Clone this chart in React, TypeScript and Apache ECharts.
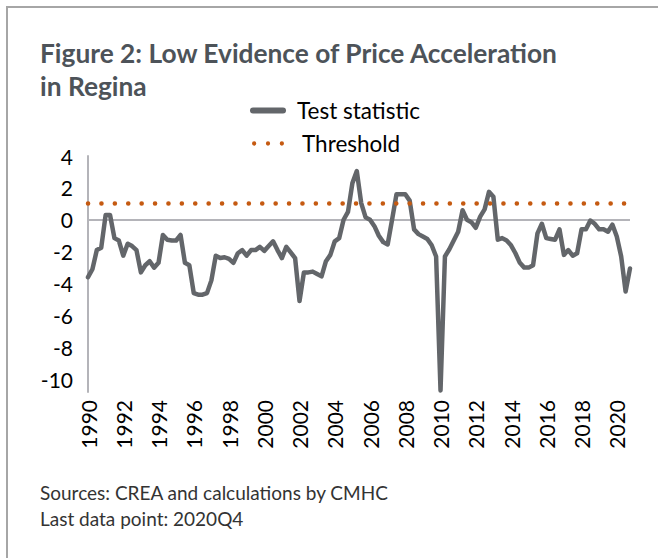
import React, { useEffect, useRef } from "react";
import * as echarts from "echarts";

// Quarterly categories 1990Q1 .. 2020Q4
const START_YEAR = 1990;
const END_YEAR = 2020;
const QUARTERS: string[] = [];
for (let y = START_YEAR; y <= END_YEAR; y++) {
  for (let q = 1; q <= 4; q++) QUARTERS.push(`${y}Q${q}`);
}

// Test statistic values (one per quarter)
const TEST_STATISTIC: number[] = [
  -3.6, -3.1, -1.9, -1.75, 0.3, 0.3, -1.15, -1.3, -2.25, -1.5,
  -1.65, -1.9, -3.3, -2.85, -2.6, -3.0, -2.7, -0.95, -1.25, -1.3,
  -1.3, -0.95, -2.7, -2.85, -4.6, -4.7, -4.7, -4.6, -3.8, -2.25,
  -2.4, -2.35, -2.45, -2.7, -2.1, -1.9, -2.25, -1.9, -1.9, -1.7,
  -1.95, -1.65, -1.35, -1.9, -2.4, -1.7, -2.05, -2.4, -5.1, -3.3,
  -3.3, -3.25, -3.4, -3.55, -2.6, -2.2, -1.35, -1.15, 0.0, 0.5,
  2.3, 3.05, 1.05, 0.15, 0.0, -0.4, -1.0, -1.4, -1.55, 0.0,
  1.6, 1.6, 1.6, 1.2, -0.6, -0.9, -1.05, -1.2, -1.6, -2.3,
  -10.7, -2.3, -1.85, -1.3, -0.75, 0.6, 0.0, -0.15, -0.5, 0.2,
  0.65, 1.75, 1.45, -1.25, -1.15, -1.3, -1.6, -2.1, -2.7, -3.0,
  -3.0, -2.85, -0.85, -0.25, -1.15, -1.2, -1.25, -0.6, -2.2, -1.9,
  -2.25, -2.1, -0.6, -0.6, -0.05, -0.25, -0.6, -0.6, -0.75, -0.3,
  -1.05, -2.3, -4.5, -3.05,
];

const THRESHOLD = 1.05;
const Y_TICKS: number[] = [-10, -8, -6, -4, -2, 0, 2, 4];

const TITLE = "Figure 2: Low Evidence of Price Acceleration\nin Regina";
const FOOTNOTE = "Sources: CREA and calculations by CMHC\nLast data point: 2020Q4";
const SERIES_NAMES = ["Test statistic", "Threshold"];

const FONT = "Lato, 'Open Sans', sans-serif";
const LINE_COLOR = "#63666A";
const THRESH_COLOR = "#C55A11";
const AXIS_COLOR = "#B4B4B9";

export default function App() {
  const ref = useRef<HTMLDivElement>(null);

  useEffect(() => {
    if (!ref.current) return;
    const chart = echarts.init(ref.current, null, { renderer: "svg" });
    const option: any = {
      animation: false,
      backgroundColor: "#ffffff",
      title: [
        {
          text: TITLE,
          left: 40,
          top: 36,
          padding: 0,
          textStyle: {
            fontFamily: FONT,
            fontSize: 26.3,
            fontWeight: "bold",
            color: "#4D5359",
            lineHeight: 33,
          },
        },
        {
          text: FOOTNOTE,
          left: 40,
          top: 479,
          padding: 0,
          textStyle: {
            fontFamily: FONT,
            fontSize: 19,
            fontWeight: "normal",
            color: "#333333",
            lineHeight: 26,
          },
        },
      ],
      legend: [
        {
          data: [
            {
              name: SERIES_NAMES[0],
              icon: "path://M3,0 H33 A3,3 0 0 1 33,6 H3 A3,3 0 0 1 3,0 Z",
            },
          ],
          left: 250,
          top: 99,
          padding: 0,
          itemWidth: 38,
          itemHeight: 6,
          textStyle: {
            fontFamily: FONT,
            fontSize: 22.5,
            color: "#000",
            padding: [0, 0, 0, 5],
          },
        },
        {
          data: [
            {
              name: SERIES_NAMES[1],
              icon:
                "path://M0,2a2,2 0 1,0 4,0a2,2 0 1,0 -4,0 M13,2a2,2 0 1,0 4,0a2,2 0 1,0 -4,0 M26,2a2,2 0 1,0 4,0a2,2 0 1,0 -4,0",
            },
          ],
          left: 252,
          top: 132,
          padding: 0,
          itemWidth: 32,
          itemHeight: 5,
          textStyle: {
            fontFamily: FONT,
            fontSize: 22.5,
            color: "#000",
            padding: [0, 0, 0, 13],
          },
        },
      ],
      grid: {
        left: 88,
        right: 28,
        top: 156,
        bottom: 166,
        containLabel: false,
      },
      xAxis: {
        type: "category",
        data: QUARTERS,
        boundaryGap: false,
        axisLine: { show: false, onZero: false },
        axisTick: { show: false },
        splitLine: { show: false },
        axisLabel: {
          interval: 7,
          rotate: 90,
          margin: 8,
          fontFamily: FONT,
          fontSize: 21,
          color: "#000",
          formatter: (v: string) => v.slice(0, 4),
        },
      },
      yAxis: {
        type: "value",
        min: -10.8,
        max: 4,
        axisLine: { show: true, lineStyle: { color: AXIS_COLOR, width: 2 } },
        axisTick: { show: false },
        splitLine: { show: false },
        axisLabel: {
          customValues: Y_TICKS,
          margin: 15,
          fontFamily: FONT,
          fontSize: 21,
          color: "#000",
        },
      },
      series: [
        {
          name: SERIES_NAMES[0],
          type: "line",
          data: TEST_STATISTIC,
          z: 3,
          symbol: "none",
          showSymbol: false,
          color: LINE_COLOR,
          itemStyle: { color: LINE_COLOR },
          lineStyle: { color: LINE_COLOR, width: 4.5, join: "round", cap: "round" },
          markLine: {
            silent: true,
            symbol: "none",
            z: 1,
            label: { show: false },
            lineStyle: { color: AXIS_COLOR, width: 2, type: "solid" },
            data: [{ yAxis: 0 }],
          },
        },
        {
          name: SERIES_NAMES[1],
          type: "line",
          data: [],
          z: 4,
          symbol: "none",
          color: THRESH_COLOR,
          itemStyle: { color: THRESH_COLOR },
          lineStyle: { color: THRESH_COLOR, width: 4.5 },
          markLine: {
            silent: true,
            symbol: "none",
            z: 10,
            label: { show: false },
            lineStyle: {
              color: THRESH_COLOR,
              width: 4.5,
              type: [0.1, 13.3],
              cap: "round",
            },
            data: [{ yAxis: THRESHOLD }],
          },
        },
      ],
    };
    chart.setOption(option);
    return () => chart.dispose();
  }, []);

  return (
    <div
      style={{
        position: "fixed",
        left: 0,
        top: 0,
        width: 658,
        height: 558,
        background: "#fff",
        overflow: "hidden",
      }}
    >
      <div ref={ref} style={{ position: "absolute", left: 0, top: 0, width: 658, height: 558 }} />
      <div
        style={{
          position: "absolute",
          left: 6,
          top: 6,
          width: 700,
          height: 700,
          border: "2px solid #A6A6A6",
          pointerEvents: "none",
        }}
      />
    </div>
  );
}
